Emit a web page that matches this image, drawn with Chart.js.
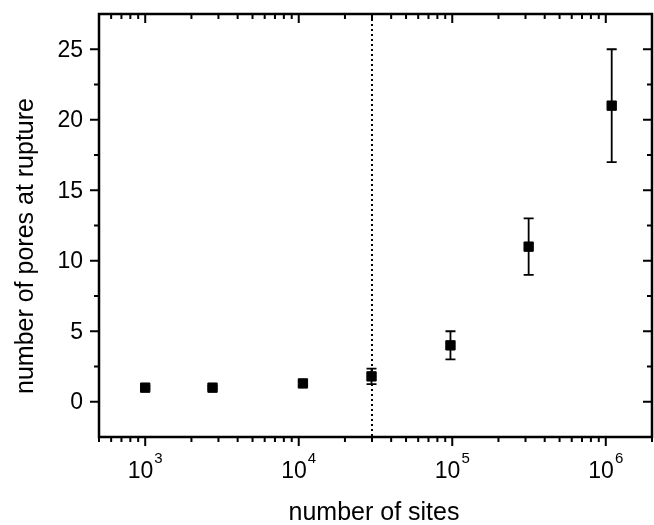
<!DOCTYPE html>
<html>
<head>
<meta charset="utf-8">
<script src="https://cdn.jsdelivr.net/npm/chart.js@4"></script>
<style>
  html, body { margin: 0; padding: 0; background: #fff; overflow: hidden; }
  canvas { display: block; }
</style>
</head>
<body>
<canvas id="grafico" width="654" height="525"></canvas>
<script>
// datos
const sitios   = [1000, 2744, 10648, 29791, 97336, 314432, 1092727];
const poros    = [1.0, 1.0, 1.3, 1.8, 4.0, 11.0, 21.0];
const errPoros = [0.1, 0.1, 0.15, 0.55, 1.0, 2.0, 4.0];
const lineaVertical = 30000;

// ticks
const ticksX     = [1000, 10000, 100000, 1000000];
const expX       = ['3', '4', '5', '6'];
const ticksY     = [0, 5, 10, 15, 20, 25];
const ticksYMenor = [-2.5, 2.5, 7.5, 12.5, 17.5, 22.5, 27.5];

const FUENTE = '"Liberation Sans", Arial, Helvetica, sans-serif';

// ticks menores del eje log: 2..9 de cada década
function ticksMenoresLog(min, max) {
  const out = [];
  for (let d = Math.pow(10, Math.floor(Math.log10(min))); d <= max; d *= 10) {
    for (let k = 2; k <= 9; k++) {
      const v = k * d;
      if (v >= min && v <= max) out.push(v);
    }
  }
  return out;
}

// 1) barras de error y línea punteada, debajo de los marcadores
const pluginFondo = {
  id: 'fondo',
  beforeDatasetsDraw(chart) {
    const { ctx, chartArea: a, scales: { x, y } } = chart;
    ctx.save();
    // línea vertical punteada
    const xl = x.getPixelForValue(lineaVertical);
    ctx.strokeStyle = '#000';
    ctx.lineWidth = 2;
    ctx.setLineDash([2, 3]);
    ctx.beginPath();
    ctx.moveTo(xl, a.top);
    ctx.lineTo(xl, a.bottom);
    ctx.stroke();
    ctx.setLineDash([]);

    // barras de error
    ctx.lineWidth = 1.8;
    sitios.forEach((s, i) => {
      const px = x.getPixelForValue(s);
      const yTop = y.getPixelForValue(poros[i] + errPoros[i]);
      const yBot = y.getPixelForValue(poros[i] - errPoros[i]);
      ctx.beginPath();
      ctx.moveTo(px, yTop); ctx.lineTo(px, yBot);
      ctx.moveTo(px - 5, yTop); ctx.lineTo(px + 5, yTop);
      ctx.moveTo(px - 5, yBot); ctx.lineTo(px + 5, yBot);
      ctx.stroke();
    });
    ctx.restore();
  }
};

// 2) marco, ticks y textos
const pluginEjes = {
  id: 'ejes',
  afterDraw(chart) {
    const { ctx, chartArea: a, scales: { x, y } } = chart;
    ctx.save();
    ctx.strokeStyle = '#000';
    ctx.fillStyle = '#000';
    ctx.lineWidth = 2.5;
    ctx.strokeRect(a.left, a.top, a.right - a.left, a.bottom - a.top);

    const mayor = 9, menor = 5;
    ctx.lineWidth = 2;
    ctx.beginPath();
    // eje X abajo (afuera) y arriba (adentro)
    ticksX.forEach(v => {
      const px = x.getPixelForValue(v);
      ctx.moveTo(px, a.bottom); ctx.lineTo(px, a.bottom + mayor);
      ctx.moveTo(px, a.top); ctx.lineTo(px, a.top + mayor);
    });
    ticksMenoresLog(x.min, x.max).forEach(v => {
      const px = x.getPixelForValue(v);
      ctx.moveTo(px, a.bottom); ctx.lineTo(px, a.bottom + menor);
      ctx.moveTo(px, a.top); ctx.lineTo(px, a.top + menor);
    });
    // eje Y izquierda (afuera) y derecha (adentro)
    ticksY.forEach(v => {
      const py = y.getPixelForValue(v);
      ctx.moveTo(a.left - mayor, py); ctx.lineTo(a.left, py);
      ctx.moveTo(a.right - mayor, py); ctx.lineTo(a.right, py);
    });
    ticksYMenor.forEach(v => {
      if (v <= y.min || v >= y.max) return;
      const py = y.getPixelForValue(v);
      ctx.moveTo(a.left - menor, py); ctx.lineTo(a.left, py);
      ctx.moveTo(a.right - menor, py); ctx.lineTo(a.right, py);
    });
    ctx.stroke();

    // etiquetas Y
    ctx.font = '23px ' + FUENTE;
    ctx.textAlign = 'right';
    ctx.textBaseline = 'middle';
    ticksY.forEach(v => {
      ctx.fillText(String(v), a.left - 16, y.getPixelForValue(v) + 1);
    });

    // etiquetas X: 10 con exponente
    ctx.textBaseline = 'alphabetic';
    ctx.textAlign = 'left';
    ticksX.forEach((v, i) => {
      const px = x.getPixelForValue(v);
      ctx.font = '23px ' + FUENTE;
      const wBase = ctx.measureText('10').width;
      ctx.font = '15px ' + FUENTE;
      const wExp = ctx.measureText(expX[i]).width;
      const x0 = px - (wBase + wExp + 1) / 2;
      ctx.font = '23px ' + FUENTE;
      ctx.fillText('10', x0, a.bottom + 41);
      ctx.font = '15px ' + FUENTE;
      ctx.fillText(expX[i], x0 + wBase + 1, a.bottom + 26);
    });

    // títulos
    ctx.font = '25px ' + FUENTE;
    ctx.textAlign = 'center';
    ctx.fillText('number of sites', 374, 520);
    ctx.translate(33, 246);
    ctx.rotate(-Math.PI / 2);
    ctx.fillText('number of pores at rupture', 0, 0);
    ctx.restore();
  }
};

new Chart(document.getElementById('grafico').getContext('2d'), {
  type: 'scatter',
  data: {
    datasets: [{
      label: 'poros',
      data: sitios.map((s, i) => ({ x: s, y: poros[i] })),
      pointStyle: 'rect',
      pointRadius: 6.6,
      pointBorderWidth: 1,
      backgroundColor: '#000',
      borderColor: '#000'
    }]
  },
  options: {
    responsive: false,
    animation: false,
    layout: { autoPadding: false, padding: { left: 99, top: 14, right: 2, bottom: 88 } },
    plugins: { legend: { display: false }, tooltip: { enabled: false } },
    scales: {
      x: { type: 'logarithmic', min: 500, max: 2000000, display: false },
      y: { type: 'linear', min: -2.5, max: 27.5, display: false }
    }
  },
  plugins: [pluginFondo, pluginEjes]
});
</script>
</body>
</html>
